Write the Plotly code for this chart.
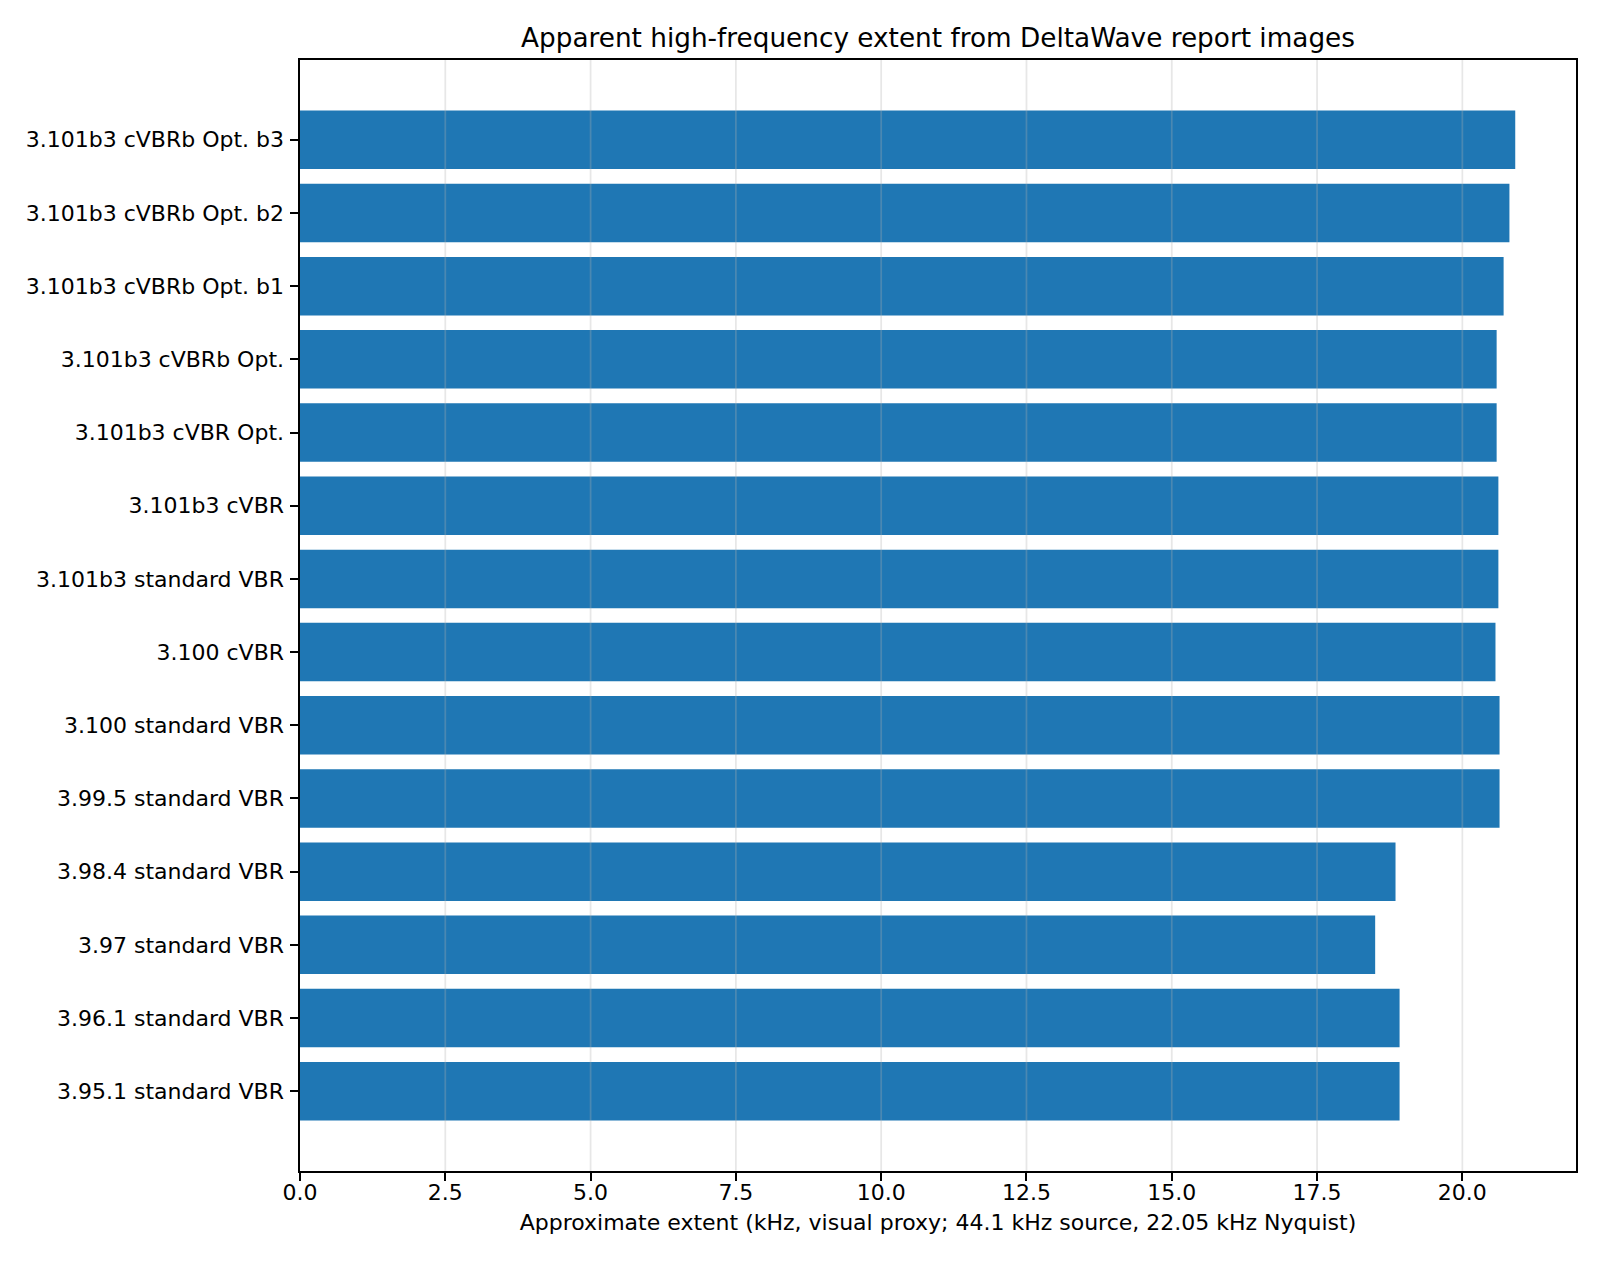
import plotly.graph_objects as go

categories = [
    "3.95.1 standard VBR",
    "3.96.1 standard VBR",
    "3.97 standard VBR",
    "3.98.4 standard VBR",
    "3.99.5 standard VBR",
    "3.100 standard VBR",
    "3.100 cVBR",
    "3.101b3 standard VBR",
    "3.101b3 cVBR",
    "3.101b3 cVBR Opt.",
    "3.101b3 cVBRb Opt.",
    "3.101b3 cVBRb Opt. b1",
    "3.101b3 cVBRb Opt. b2",
    "3.101b3 cVBRb Opt. b3",
]
extent_khz = [18.92, 18.92, 18.50, 18.85, 20.64, 20.64, 20.57, 20.62, 20.62,
              20.59, 20.59, 20.71, 20.81, 20.91]
x_ticks = [0, 2.5, 5, 7.5, 10, 12.5, 15, 17.5, 20]

FONT = "DejaVu Sans"
GRID = "rgba(176,176,176,0.3)"

fig = go.Figure()
fig.add_trace(go.Bar(
    y=categories,
    x=extent_khz,
    orientation="h",
    width=0.8,
    marker=dict(color="#1f77b4", line=dict(width=0)),
))

# vertical grid lines drawn above the bars (as in the reference)
for t in x_ticks[1:]:
    fig.add_shape(type="line", xref="x", yref="paper", x0=t, x1=t, y0=0, y1=1,
                  line=dict(color=GRID, width=1.76), layer="above")

fig.update_layout(
    width=1600,
    height=1264,
    margin=dict(l=300, r=24, t=60, b=93, autoexpand=False),
    paper_bgcolor="white",
    plot_bgcolor="white",
    font=dict(family=FONT, size=22, color="black"),
    showlegend=False,
    title=dict(
        text="Apparent high-frequency extent from DeltaWave report images",
        x=0.5, xref="paper", xanchor="center",
        y=1 - 38 / 1264, yref="container", yanchor="middle",
        font=dict(family=FONT, size=26.3, color="black"),
    ),
    xaxis=dict(
        range=[0, max(extent_khz) * 1.05],
        tickvals=x_ticks,
        tickformat=".1f",
        showgrid=False,
        zeroline=False,
        showline=True,
        linecolor="black",
        linewidth=1.76,
        mirror=True,
        ticks="outside",
        ticklen=7.7,
        tickwidth=1.76,
        tickcolor="black",
        ticklabelstandoff=-7,
        title=dict(
            text="Approximate extent (kHz, visual proxy; 44.1 kHz source, 22.05 kHz Nyquist)",
            font=dict(family=FONT, size=22, color="black"),
            standoff=11,
        ),
        automargin=False,
    ),
    yaxis=dict(
        type="category",
        categoryorder="array",
        categoryarray=categories,
        range=[-1.09, 14.09],
        showgrid=False,
        zeroline=False,
        showline=True,
        linecolor="black",
        linewidth=1.76,
        mirror=True,
        ticks="outside",
        ticklen=7.7,
        tickwidth=1.76,
        tickcolor="black",
        ticklabelstandoff=2,
        automargin=False,
    ),
)

fig.write_html("out.html")
